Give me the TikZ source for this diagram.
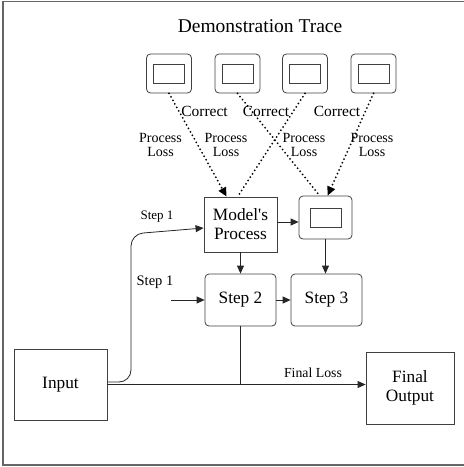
\documentclass[tikz,border=0pt]{standalone}
\usepackage{fontspec}
\setmainfont{Liberation Serif}
\usetikzlibrary{arrows.meta,calc}
\begin{document}
\begin{tikzpicture}[x=1pt,y=-1pt,
  box/.style={draw=black!75,line width=0.8pt,inner sep=0pt,align=center,font=\fontsize{17.3}{19}\selectfont},
  rbox/.style={box,rounded corners=4pt},
  inner/.style={draw=black!75,line width=0.8pt,minimum width=31pt,minimum height=19pt,inner sep=0pt},
  conn/.style={draw=black!85,line width=0.8pt},
  arr/.style={conn,-{Triangle[length=8pt,width=7pt]}},
  dots/.style={draw=black,line width=2pt,dash pattern=on 0pt off 4pt,line cap=round},
  darr/.style={dots,-{Triangle[length=9pt,width=8pt]}},
  lbl/.style={inner sep=0pt,align=center},
]
\useasboundingbox (0,0) rectangle (464,467);
\draw[black!60,line width=1.5pt] (465,1.5) -- (3,1.5) -- (3,465) -- (465,465);

\node[lbl,font=\fontsize{19.5}{21}\selectfont,anchor=base] (title) at (260,32) {Demonstration Trace};

\foreach \n/\x in {1/169,2/237.5,3/305,4/373.5}{
  \node[rbox,minimum width=45pt,minimum height=39pt] (t\n) at (\x,73.5) {};
  \node[inner] (t\n i) at (t\n.center) {};
}

\node[box,minimum width=73pt,minimum height=55pt] (mp) at (240.5,224.5) {Model\textquotesingle s\\Process};
\node[rbox,minimum width=53pt,minimum height=43pt] (sb) at (325.5,217.5) {};
\node[inner] (sbi) at (sb.center) {};
\node[rbox,minimum width=71pt,minimum height=52pt] (s2) at (240.5,300) {Step 2};
\node[rbox,minimum width=71pt,minimum height=52pt] (s3) at (326.5,300) {Step 3};
\node[box,minimum width=93pt,minimum height=71pt] (in) at (60.5,384.5) {Input};
\node[box,minimum width=88pt,minimum height=72pt] (fo) at (410,388) {Final\\Output};

% labels
\foreach \n/\x in {1/204.5,2/266,3/337}{
  \node[lbl,font=\fontsize{15.5}{17}\selectfont] (c\n) at (\x,111.5) {Correct};
}
\foreach \n/\x in {1/160.5,2/226,3/304,4/372}{
  \node[lbl,font=\fontsize{14}{14.5}\selectfont] (p\n) at (\x,145) {Process\\Loss};
}
\node[lbl,font=\fontsize{13}{14}\selectfont] (st1a) at (157,217) {Step 1};
\node[lbl,font=\fontsize{14.5}{15}\selectfont] (st1b) at (155,282) {Step 1};
\node[lbl,font=\fontsize{13.8}{15}\selectfont] (fl) at (313,373) {Final Loss};

% dotted connectors
\draw[darr] (t1.south) -- ([xshift=23pt]mp.north west);
\draw[dots] (t3.south) -- ([xshift=34pt]mp.north west);
\draw[dots] (t2.south) -- ([xshift=21pt]sb.north west);
\draw[darr] (t4.south) -- ([xshift=29pt]sb.north west);

% solid connectors
\draw[arr] ([yshift=2.5pt]mp.east) -- ([yshift=2.5pt]mp.east -| sb.west);
\draw[arr] (mp.south) -- (s2.north);
\draw[arr] (sb.south) -- (sb.south |- s3.north);
\draw[arr] (s2.east) -- (s3.west);
\coordinate (sa) at (171,300);
\draw[arr] (sa) -- (s2.west);
\coordinate (k1) at (131,382);
\coordinate (k2) at (131,234);
\draw[arr,rounded corners=12pt] ([yshift=2.5pt]in.east) -- (k1) -- (k2) -- ([yshift=-3.5pt]mp.west);
\draw[arr] (in.east) -- (in.east -| fo.west);
\draw[conn] (s2.south) -- (s2.south |- in.east);
\end{tikzpicture}
\end{document}
